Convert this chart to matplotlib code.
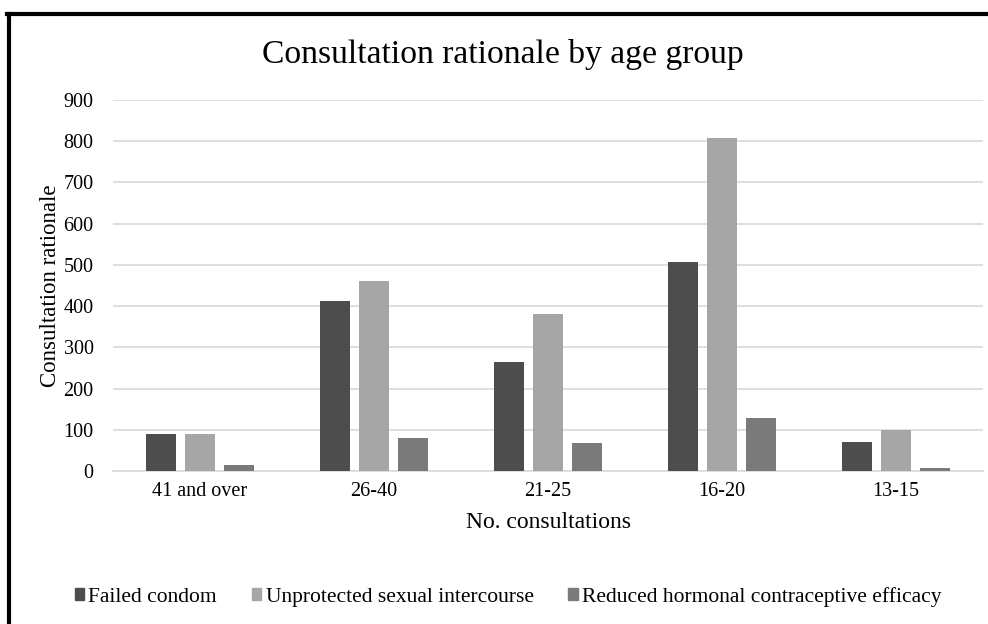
import matplotlib
matplotlib.use("Agg")
import matplotlib.pyplot as plt
import numpy as np
from matplotlib.lines import Line2D

categories = ["41 and over", "26-40", "21-25", "16-20", "13-15"]
failed_condom = [90, 412, 264, 506, 71]
unprotected = [90, 462, 381, 807, 99]
reduced_hormonal = [15, 80, 67, 129, 8]
series_names = ["Failed condom", "Unprotected sexual intercourse",
                "Reduced hormonal contraceptive efficacy"]
colors = ["#4d4d4d", "#a6a6a6", "#7a7a7a"]
yticks = [0, 100, 200, 300, 400, 500, 600, 700, 800, 900]

plt.rcParams['font.family'] = ['Liberation Serif', 'DejaVu Serif']

fig = plt.figure(figsize=(9.88, 6.24), dpi=100)
ax = fig.add_axes([113/988, 1-471/624, 870/988, 371/624])

x = np.arange(len(categories))
w = 0.172
off = 0.224
for i, (vals, name, c) in enumerate(zip([failed_condom, unprotected, reduced_hormonal],
                                        series_names, colors)):
    ax.bar(x + (i-1)*off, vals, width=w, color=c, label=name, zorder=3)

ax.set_xlim(-0.5, len(categories)-0.5)
ax.set_ylim(0, 900)
ax.set_yticks(yticks)
ax.set_xticks(x)
ax.set_xticklabels(categories, fontsize=14.5)
ax.tick_params(axis='y', labelsize=14.5, length=0, pad=14)
ax.tick_params(axis='x', length=0, pad=8)
ax.grid(axis='y', color='#d9d9d9', linewidth=1.2, zorder=0)
for s in ["top", "right", "left"]:
    ax.spines[s].set_visible(False)
ax.spines["bottom"].set_color('#d9d9d9')
ax.spines["bottom"].set_linewidth(1.2)

ax.set_ylabel("Consultation rationale", fontsize=16.5, labelpad=2)
ax.set_xlabel("No. consultations", fontsize=17, labelpad=8)

fig.text(503/988, 1-55/624, "Consultation rationale by age group",
         fontsize=24.2, ha='center', va='center')

handles = [plt.Rectangle((0, 0), 1, 1, color=c) for c in colors]
fig.legend(handles, series_names, loc='center', bbox_to_anchor=(508/988, 1-597/624),
           ncol=3, frameon=False, fontsize=15.5, handlelength=0.45, handleheight=0.5,
           handletextpad=0.2, columnspacing=1.6)

# image border (top and left)
fig.add_artist(Line2D([7/988, 1], [1-14/624, 1-14/624], color='black', linewidth=3,
                      transform=fig.transFigure))
fig.add_artist(Line2D([9/988, 9/988], [0, 1-14/624], color='black', linewidth=3,
                      transform=fig.transFigure))

fig.savefig("out.png", dpi=100)
